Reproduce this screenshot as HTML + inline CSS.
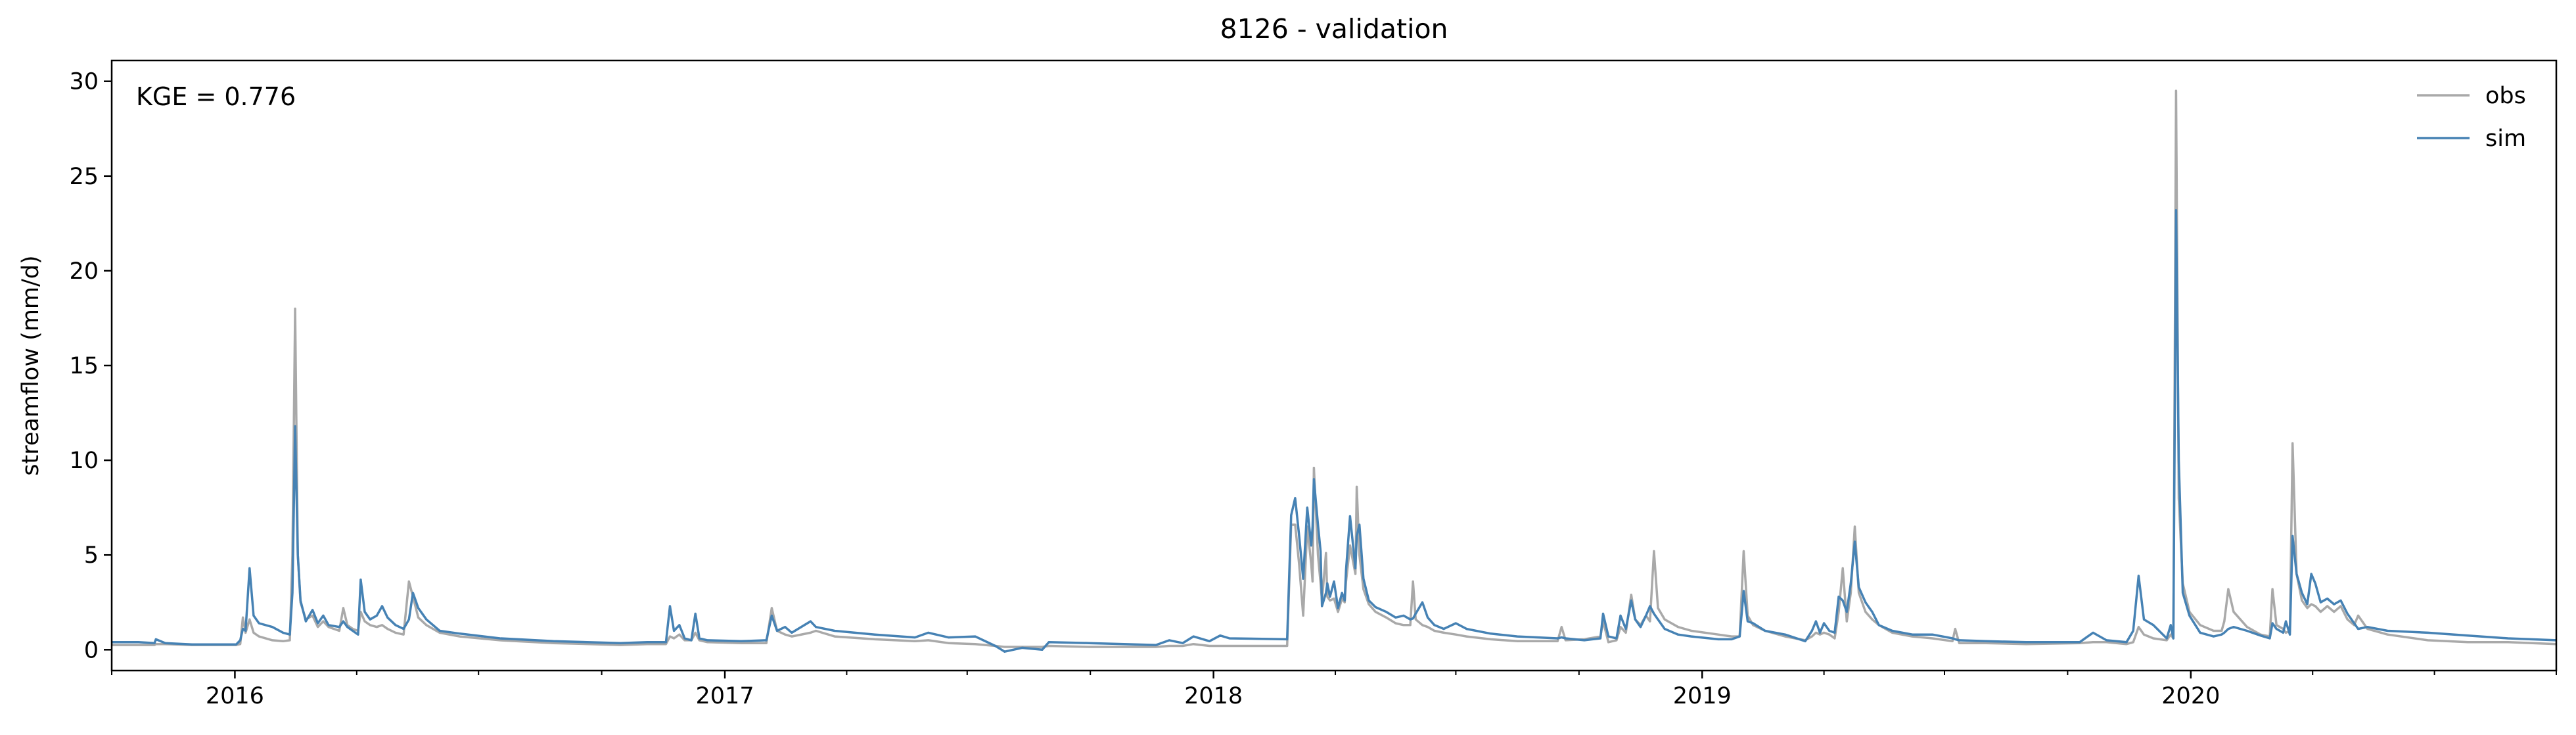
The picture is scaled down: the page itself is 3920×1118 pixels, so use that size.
<!DOCTYPE html>
<html><head><meta charset="utf-8"><style>
html,body{margin:0;padding:0;background:#fff;}
svg{display:block;font-family:"DejaVu Sans","Liberation Sans",sans-serif;}
</style></head><body>
<svg id="chart" width="3920" height="1118" viewBox="0 0 3920 1118" xmlns="http://www.w3.org/2000/svg">
<rect width="3920" height="1118" fill="#fff"/>
<text x="2030" y="58" font-size="41" text-anchor="middle">8126 - validation</text>
<text transform="translate(58,556) rotate(-90)" font-size="35" text-anchor="middle">streamflow (mm/d)</text>
<g id="series"></g>
<g id="axes"></g>
<text x="207" y="160" font-size="38">KGE = 0.776</text>
<g>
<line x1="3678" y1="145" x2="3758" y2="145" stroke="#a9a9a9" stroke-width="3.5"/>
<text x="3782" y="157" font-size="35">obs</text>
<line x1="3678" y1="210" x2="3758" y2="210" stroke="#4682b4" stroke-width="3.5"/>
<text x="3782" y="222" font-size="35">sim</text>
</g>
</svg>
<script>
const days=[0,20,32,33,40,60,93,96,98,100,103,106,110,120,128,133,135,137,139,141,145,150,154,158,162,170,173,176,180,184,186,189,193,198,202,206,212,218,222,225,229,235,245,260,290,330,380,400,414,417,420,424,428,433,436,439,445,470,489,493,497,503,508,522,526,540,570,600,610,625,645,660,667,680,695,700,730,780,790,800,808,820,828,835,878,881,884,887,890,893,896,897,898,901,903,904,907,908,910,913,916,919,921,922,925,929,930,932,935,939,944,952,959,965,970,972,974,979,983,988,995,1004,1012,1030,1050,1080,1083,1086,1100,1112,1114,1118,1124,1127,1131,1135,1138,1142,1146,1149,1152,1155,1160,1170,1180,1200,1210,1216,1219,1222,1226,1235,1250,1265,1270,1273,1276,1279,1283,1287,1290,1293,1296,1299,1302,1305,1310,1315,1320,1330,1345,1360,1375,1377,1380,1400,1430,1470,1480,1490,1505,1510,1514,1518,1525,1535,1538,1540,1542,1544,1547,1552,1560,1570,1576,1578,1581,1585,1595,1605,1612,1614,1617,1622,1624,1627,1629,1632,1636,1640,1643,1646,1650,1655,1660,1665,1670,1675,1678,1685,1700,1730,1760,1790,1826];
const obs=[.25,.25,.25,.3,.3,.25,.25,.3,1.7,.9,1.6,.9,.7,.5,.45,.5,5,18,5,2.5,1.6,1.8,1.2,1.5,1.2,1.0,2.2,1.3,1.1,1.0,2.0,1.5,1.3,1.2,1.3,1.1,.9,.8,3.6,2.8,1.7,1.3,.9,.7,.5,.35,.25,.3,.3,.7,.6,.8,.5,.5,.9,.5,.4,.35,.35,2.2,1.0,.8,.7,.9,1.0,.7,.55,.45,.5,.35,.3,.2,.15,.15,.15,.2,.15,.15,.2,.2,.3,.2,.2,.2,.2,6.6,6.6,4.5,1.8,6.5,4.5,3.6,9.6,5.0,3.5,2.6,5.1,2.8,2.6,2.7,2.0,2.7,2.5,3.6,5.5,4.0,8.6,5.0,3.2,2.4,2.0,1.7,1.4,1.3,1.3,3.6,1.6,1.3,1.2,1.0,.9,.8,.7,.55,.45,.45,1.2,.5,.55,.7,1.5,.4,.5,1.2,.9,2.9,1.6,1.3,1.8,1.5,5.2,2.2,1.6,1.2,1.0,.8,.7,.7,5.2,1.8,1.3,1.0,.7,.5,.7,.9,.8,.9,.8,.6,2.0,4.3,1.5,3.0,6.5,3.0,2.0,1.6,1.3,.9,.7,.6,.45,1.1,.35,.35,.3,.35,.4,.4,.3,.4,1.2,.8,.6,.5,.8,.6,29.5,8,3.5,2.0,1.3,1.0,1.0,1.5,3.2,2.0,1.2,.8,.7,3.2,1.3,1.1,.9,1.0,10.9,4.0,2.6,2.2,2.4,2.3,2.0,2.3,2.0,2.3,1.6,1.3,1.8,1.1,.8,.5,.4,.4,.3];
const sim=[.4,.4,.35,.55,.35,.28,.28,.5,1.1,1.0,4.3,1.8,1.4,1.2,.9,.8,3,11.8,5,2.6,1.5,2.1,1.4,1.8,1.3,1.2,1.5,1.2,1.0,.8,3.7,2.0,1.6,1.8,2.3,1.7,1.3,1.1,1.6,3.0,2.2,1.6,1.0,.85,.6,.45,.35,.4,.4,2.3,1.0,1.3,.6,.5,1.9,.6,.5,.45,.5,1.8,1.0,1.2,.9,1.5,1.2,1.0,.8,.65,.9,.65,.7,.2,-.1,.1,0,.4,.35,.25,.5,.35,.7,.45,.75,.6,.55,7.1,8.0,6.0,3.75,7.5,5.5,6.5,9.0,6.6,5.2,2.3,3.0,3.5,2.8,3.6,2.2,3.0,2.6,4.2,7.05,4.3,6.0,6.6,3.75,2.6,2.25,2.0,1.7,1.8,1.6,1.65,1.9,2.5,1.7,1.3,1.1,1.4,1.1,.85,.7,.6,.65,.6,.5,.6,1.9,.7,.6,1.8,1.1,2.6,1.6,1.2,1.8,2.3,1.9,1.6,1.1,.8,.7,.55,.55,.7,3.1,1.5,1.4,1.0,.8,.45,1.0,1.5,.9,1.4,1.0,.9,2.8,2.6,2.0,3.5,5.7,3.3,2.5,2.0,1.3,1.0,.8,.8,.6,.55,.5,.45,.4,.4,.9,.5,.4,1.0,3.9,1.6,1.3,.6,1.3,.6,23.2,10,3.0,1.8,.9,.7,.8,.9,1.1,1.2,1.0,.75,.6,1.4,1.1,.9,1.5,.8,6.0,4.0,3.0,2.4,4.0,3.5,2.5,2.7,2.4,2.6,1.9,1.4,1.1,1.2,1.0,.9,.75,.6,.5];
const yTicks=[0,5,10,15,20,25,30];
const yearLabels=["2016","2017","2018","2019","2020"];
const yearDays=[92,458,823,1188,1553];
const quarterDays=[0,183,274,366,549,639,731,914,1004,1096,1279,1369,1461,1644,1735,1826];

const L=170,R=3890,T=92,B=1020,D0=0,D1=1826,Y0=-1.1,Y1=31.1;
const xs=d=>L+(d-D0)/(D1-D0)*(R-L);
const ys=v=>B-(v-Y0)/(Y1-Y0)*(B-T);
const NS="http://www.w3.org/2000/svg";
const series=document.getElementById('series');
const axes=document.getElementById('axes');
function mk(tag,attrs,parent){const e=document.createElementNS(NS,tag);for(const k in attrs)e.setAttribute(k,attrs[k]);parent.appendChild(e);return e;}
function line(vals,color,name){
  const d=days.map((t,i)=>(i?'L':'M')+xs(t).toFixed(1)+','+ys(vals[i]).toFixed(1)).join('');
  const p=mk('path',{d:d,fill:'none',stroke:color,'stroke-width':3.5,'stroke-linejoin':'round'},series);
  
  
}
line(obs,'#a9a9a9','obs-line');
line(sim,'#4682b4','sim-line');
const frame=mk('rect',{x:L,y:T,width:R-L,height:B-T,fill:'none',stroke:'#000','stroke-width':2.5},axes);


yTicks.forEach(v=>{
  const y=ys(v);
  const t=mk('line',{x1:L-12,y1:y,x2:L,y2:y,stroke:'#000','stroke-width':2.5},axes);
  
  
  const lb=mk('text',{x:L-20,y:y+12,'font-size':35,'text-anchor':'end'},axes);
  lb.textContent=v;
  
  
});
quarterDays.forEach(d=>{
  const x=xs(d);
  const t=mk('line',{x1:x,y1:B,x2:x,y2:B+7,stroke:'#000','stroke-width':2},axes);
  
  
});
yearDays.forEach((d,i)=>{
  const x=xs(d);
  const t=mk('line',{x1:x,y1:B,x2:x,y2:B+12,stroke:'#000','stroke-width':2.5},axes);
  
  
  const lb=mk('text',{x:x,y:B+50,'font-size':35,'text-anchor':'middle'},axes);
  lb.textContent=yearLabels[i];
  
  
});
</script>
</body></html>
